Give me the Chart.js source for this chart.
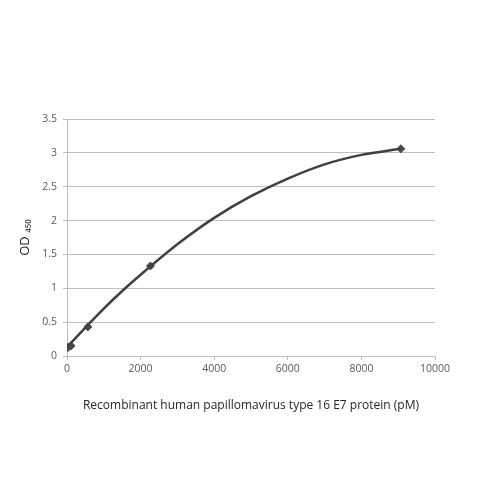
<!DOCTYPE html>
<html>
<head>
<meta charset="utf-8">
<script src="https://cdn.jsdelivr.net/npm/chart.js@4.4.1/dist/chart.umd.min.js"></script>
<style>
html,body{margin:0;padding:0;background:#fff;}
#wrap{width:500px;height:500px;}
</style>
</head>
<body>
<div id="wrap"><canvas id="c" width="500" height="500"></canvas></div>
<script>
// Measured points
const concentrations = [0, 35, 110, 567, 2268, 9072];
const odValues = [0.12, 0.13, 0.15, 0.43, 1.33, 3.06];
// Fitted trend curve
const curveX = [0, 500, 1000, 1500, 2000, 3000, 4000, 5000, 6000, 7000, 8000, 9072];
const curveY = [0.13, 0.42, 0.70, 0.96, 1.20, 1.65, 2.04, 2.36, 2.62, 2.83, 2.97, 3.06];
const xTicks = [0, 2000, 4000, 6000, 8000, 10000];
const yTicks = [0, 0.5, 1, 1.5, 2, 2.5, 3, 3.5];
const xTitle = 'Recombinant human papillomavirus type 16 E7 protein (pM)';
const yTitle = 'OD \u2084\u2085\u2080';

const pts = concentrations.map((x, i) => ({x: x, y: odValues[i]}));
const curve = curveX.map((x, i) => ({x: x, y: curveY[i]}));

const tickFont = {family: "'Open Sans', 'Liberation Sans', sans-serif", size: 10.5};
const titleFont = {family: "'Open Sans', 'Liberation Sans', sans-serif", size: 12};

new Chart(document.getElementById('c'), {
  type: 'scatter',
  data: {
    datasets: [
      {
        label: 'trend',
        data: curve,
        showLine: true,
        borderColor: '#404040',
        borderWidth: 2.5,
        pointRadius: 0,
        cubicInterpolationMode: 'monotone',
        fill: false
      },
      {
        label: 'OD450',
        data: pts,
        showLine: false,
        pointStyle: 'rectRot',
        pointRadius: 4,
        backgroundColor: '#4a4a4a',
        borderColor: '#4a4a4a'
      }
    ]
  },
  options: {
    responsive: false,
    animation: false,
    devicePixelRatio: 1,
    layout: {padding: {left: 0, right: 65, top: 119, bottom: 0}},
    plugins: {legend: {display: false}, tooltip: {enabled: false}},
    scales: {
      x: {
        type: 'linear',
        min: 0, max: 10000,
        afterBuildTicks: (s) => { s.ticks = xTicks.map(v => ({value: v})); },
        afterFit: (s) => { s.height = 144; },
        ticks: {color: '#595959', font: tickFont, padding: 3, maxRotation: 0, callback: (v) => String(v)},
        grid: {drawOnChartArea: false, drawTicks: true, tickLength: 4, color: '#bfbfbf'},
        border: {color: '#bfbfbf', width: 1},
        title: {display: true, text: xTitle, color: '#262626', font: titleFont, padding: {top: 0, bottom: 87}}
      },
      y: {
        type: 'linear',
        min: 0, max: 3.5,
        afterBuildTicks: (s) => { s.ticks = yTicks.map(v => ({value: v})); },
        afterFit: (s) => { s.width = 67; },
        ticks: {color: '#595959', font: tickFont, padding: 6, callback: (v) => String(v)},
        grid: {color: '#bfbfbf', drawTicks: true, tickLength: 4},
        border: {color: '#bfbfbf', width: 1},
        title: {display: true, text: yTitle, color: '#262626', font: {family: titleFont.family, size: 13}, padding: {top: 17, bottom: 0}}
      }
    }
  }
});
</script>
</body>
</html>
